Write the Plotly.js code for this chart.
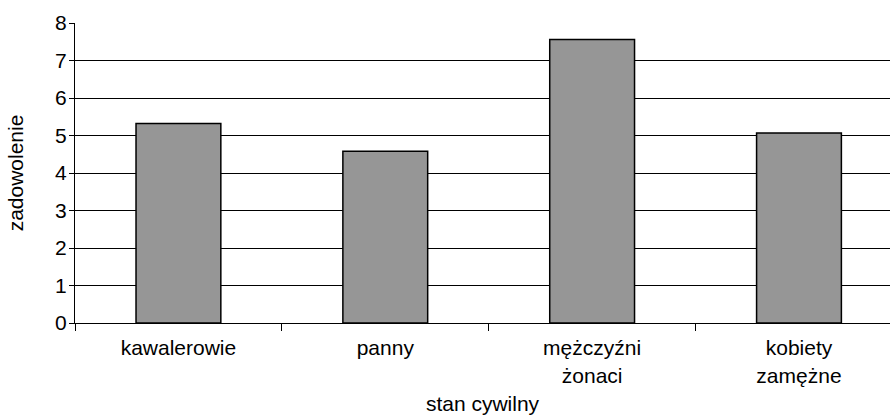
<!DOCTYPE html>
<html>
<head>
<meta charset="utf-8">
<script src="https://cdn.plot.ly/plotly-3.0.1.min.js"></script>
<style>html,body{margin:0;padding:0;background:#fff;}#chart{width:890px;height:415px;}</style>
</head>
<body>
<div id="chart"></div>
<script>
const categories = ["kawalerowie", "panny", "mężczyźni<br>żonaci", "kobiety<br>zamężne"];
const values = [5.32, 4.58, 7.56, 5.07];
const yTicks = [0, 1, 2, 3, 4, 5, 6, 7, 8];

const font = {family: "Liberation Sans, Arial, sans-serif", size: 21, color: "#000"};

Plotly.newPlot("chart", [{
  type: "bar",
  x: categories,
  y: values,
  marker: {color: "#969696", line: {color: "#000", width: 1.5}},
  hoverinfo: "none"
}], {
  width: 890, height: 415,
  margin: {l: 75, r: 0, t: 23, b: 92},
  paper_bgcolor: "#fff", plot_bgcolor: "#fff",
  font: font,
  showlegend: false,
  bargap: 0.59,
  xaxis: {
    type: "category",
    range: [-0.5, 3.44],
    tickson: "boundaries",
    ticks: "outside", ticklen: 7, tickcolor: "#000", tickwidth: 1,
    ticklabelstandoff: 6,
    showline: true, linecolor: "#000", linewidth: 1,
    showgrid: false, zeroline: false,
    tickfont: font,
    title: {text: "stan cywilny", font: font, standoff: 23}
  },
  yaxis: {
    range: [0, 8],
    tickvals: yTicks,
    ticks: "outside", ticklen: 5, tickcolor: "#000", tickwidth: 1,
    ticklabelstandoff: -2,
    showline: true, linecolor: "#000", linewidth: 1,
    showgrid: true, gridcolor: "#000", gridwidth: 1,
    zeroline: false,
    tickfont: font,
    title: {text: "zadowolenie", font: font, standoff: 25}
  }
}, {staticPlot: true, displayModeBar: false});
</script>
</body>
</html>
